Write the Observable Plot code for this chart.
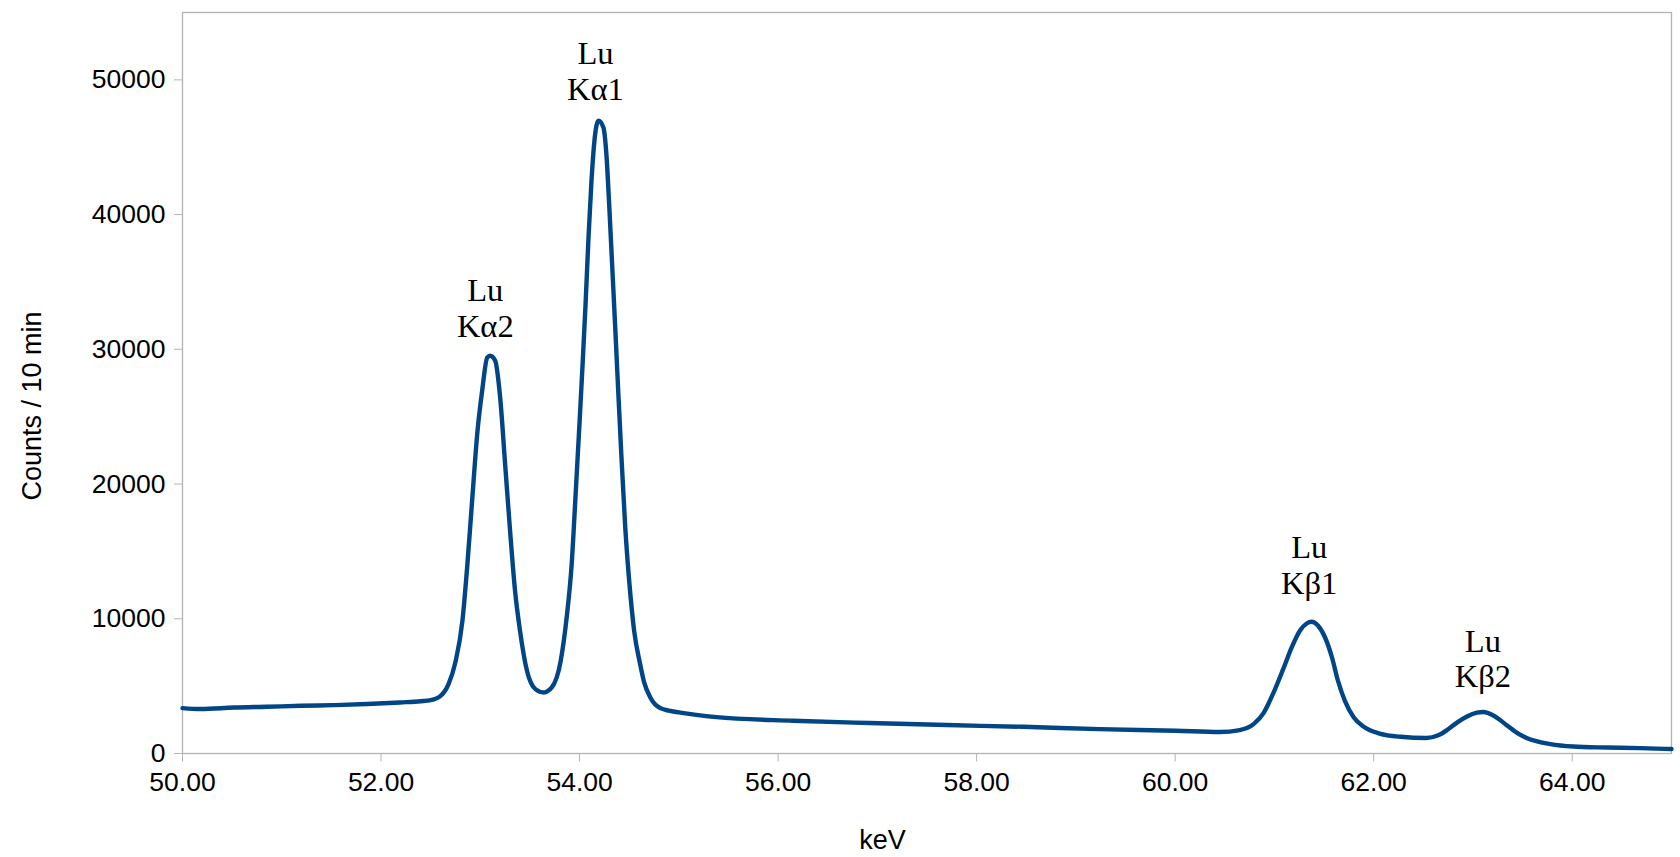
<!DOCTYPE html>
<html>
<head>
<meta charset="utf-8">
<script src="https://cdn.jsdelivr.net/npm/d3@7"></script>
<script src="https://cdn.jsdelivr.net/npm/@observablehq/plot@0.6"></script>
<style>
  html, body { margin: 0; padding: 0; background: #fff; }
  #chart svg { display: block; }
</style>
</head>
<body>
<div id="chart"></div>
<script>
// Energy (keV) of each point
const energy = [
  50.00, 50.18, 50.52, 50.85, 51.19, 51.52, 51.86, 52.19, 52.40, 52.50,
  52.60, 52.68, 52.75, 52.82, 52.87, 52.92, 52.97, 53.02, 53.07, 53.10,
  53.15, 53.20, 53.25, 53.30, 53.35, 53.40, 53.47, 53.555, 53.64, 53.72,
  53.81, 53.87, 53.92, 53.96, 54.00, 54.03, 54.06, 54.09, 54.12, 54.15,
  54.19, 54.24, 54.27, 54.30, 54.33, 54.36, 54.39, 54.42, 54.46, 54.50,
  54.55, 54.61, 54.65, 54.71, 54.76, 54.82, 54.90, 55.00, 55.38, 56.15,
  56.92, 57.70, 58.47, 59.24, 60.01, 60.45, 60.65, 60.79, 60.89, 60.99,
  61.09, 61.175, 61.26, 61.325, 61.375, 61.44, 61.51, 61.58, 61.64, 61.71,
  61.80, 61.90, 62.06, 62.27, 62.53, 62.65, 62.75, 62.85, 62.94, 63.04,
  63.105, 63.21, 63.34, 63.46, 63.54, 63.78, 64.01, 64.34, 64.68, 65.00
];
// Counts per 10 min at each energy
const counts = [
  3370, 3300, 3410, 3470, 3540, 3590, 3670, 3790, 3880, 3960,
  4280, 5150, 6800, 9850, 14050, 19000, 23800, 27000, 29390, 29520,
  29150, 26420, 21480, 16530, 12080, 9110, 6140, 4780, 4530, 4900,
  6880, 10090, 14000, 19200, 24600, 28800, 33300, 38300, 42500, 45500,
  46960, 46460, 44500, 40500, 36000, 31500, 26800, 22300, 16800, 12800,
  9100, 6640, 5300, 4200, 3650, 3350, 3180, 3050, 2700, 2430,
  2260, 2110, 1980, 1810, 1690, 1600, 1740, 2180, 3000, 4500,
  6300, 7900, 9150, 9650, 9775, 9480, 8610, 7125, 5400, 3910,
  2670, 1980, 1480, 1240, 1150, 1350, 1800, 2350, 2750, 3030,
  3080, 2800, 2100, 1450, 1150, 700, 520, 445, 400, 330
];

// Peak annotations
const peakNames = ["Lu\nKα2", "Lu\nKα1", "Lu\nKβ1", "Lu\nKβ2"];
const peakEnergy = [53.05, 54.16, 61.35, 63.10];
const peakLabelCounts = [30930, 48517, 11853, 4899];

// Axis ticks
const xTicks = [50, 52, 54, 56, 58, 60, 62, 64];
const yTicks = [0, 10000, 20000, 30000, 40000, 50000];

const spectrum = energy.map((e, i) => ({e, c: counts[i]}));
const peaks = peakNames.map((n, i) => ({n, e: peakEnergy[i], c: peakLabelCounts[i]}));

const gray = "#b3b3b3";
const sans = "'Liberation Sans', Arial, sans-serif";

const chart = Plot.plot({
  width: 1680,
  height: 857,
  marginLeft: 182,
  marginRight: 9,
  marginTop: 12,
  marginBottom: 104,
  style: {fontFamily: sans, fontSize: "26.5px", color: "#000", background: "#fff"},
  x: {domain: [50, 65], axis: null},
  y: {domain: [0, 55000], axis: null},
  marks: [
    Plot.frame({stroke: gray, strokeWidth: 1.3}),
    Plot.axisX({
      ticks: xTicks, tickSize: 8.5, tickPadding: 10, stroke: gray, fill: "#000",
      tickFormat: d3.format(".2f"), label: null, fontSize: 26.5
    }),
    Plot.axisY({
      ticks: yTicks, tickSize: 8, tickPadding: 9, stroke: gray, fill: "#000",
      tickFormat: d => String(d), label: null, fontSize: 26.5
    }),
    Plot.line(spectrum, {
      x: "e", y: "c", stroke: "#004586", strokeWidth: 4.4,
      curve: "monotone-x", strokeLinejoin: "round"
    }),
    Plot.text(peaks, {
      x: "e", y: "c", text: "n", lineAnchor: "bottom", textAnchor: "middle",
      lineHeight: 1.1, fontFamily: "'Liberation Serif', 'Times New Roman', serif",
      fontSize: 32.5, fill: "#000"
    }),
    Plot.text(["Counts / 10 min"], {
      frameAnchor: "left", dx: -150.5, dy: 23, rotate: -90,
      textAnchor: "middle", lineAnchor: "middle", fontSize: 27, fill: "#000"
    }),
    Plot.text(["keV"], {
      frameAnchor: "bottom", dx: -44.5, dy: 86.5,
      textAnchor: "middle", lineAnchor: "middle", fontSize: 27, fill: "#000"
    })
  ]
});
document.getElementById("chart").appendChild(chart);
</script>
</body>
</html>
